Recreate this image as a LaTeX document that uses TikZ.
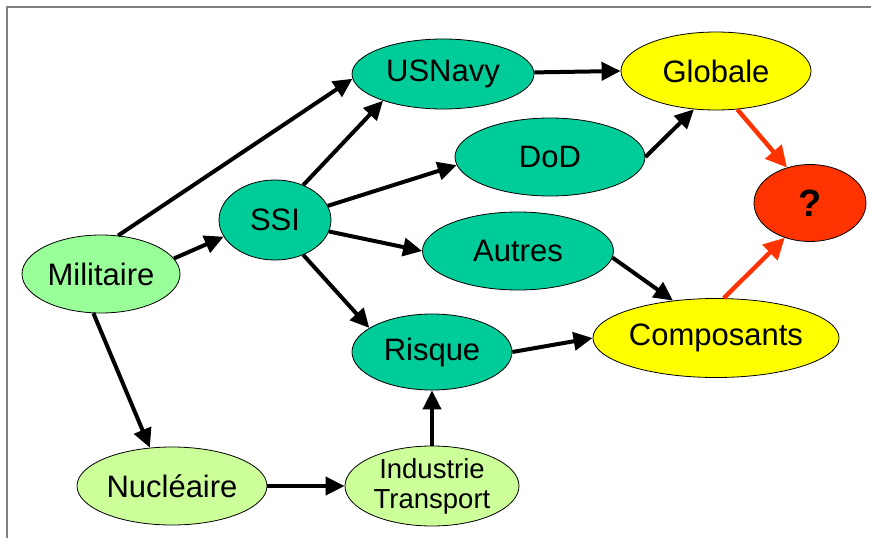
\documentclass[tikz,border=0pt]{standalone}
\usepackage{fontspec}
\setmainfont{Liberation Sans}
\usetikzlibrary{shapes.geometric,arrows.meta}
\definecolor{tealfill}{RGB}{0,204,153}
\definecolor{mintfill}{RGB}{153,255,153}
\definecolor{limefill}{RGB}{204,255,153}
\definecolor{yellowfill}{RGB}{255,255,0}
\definecolor{redfill}{RGB}{255,51,0}
\definecolor{framegray}{RGB}{128,128,128}
\begin{document}
\begin{tikzpicture}[x=1pt,y=-1pt,
  bub/.style={ellipse,draw=black,line width=0.8pt,inner sep=0pt,
    font=\fontsize{31}{33}\selectfont,align=center},
  sz/.style 2 args={minimum width=#1pt,minimum height=#2pt},
  link/.style={draw=black,line width=4pt,
    -{Triangle[length=19pt,width=18pt]}},
  redlink/.style={draw=redfill,line width=4.4pt,
    -{Triangle[length=21pt,width=21pt]}}]
\useasboundingbox (0,0) rectangle (871,538);
\draw[framegray,line width=1.6pt] (7,538) -- (7,7) -- (871,7);

% nodes
\node[bub,sz={158}{78},fill=mintfill]   (mil) at (101,274) {Militaire};
\node[bub,sz={112}{80},fill=tealfill]   (ssi) at (275,220) {SSI};
\node[bub,sz={182}{70},fill=tealfill]   (usn) at (443,74)  {USNavy};
\node[bub,sz={190}{78},fill=tealfill]   (dod) at (550,157) {DoD};
\node[bub,sz={191}{78},fill=tealfill]   (aut) at (518,251) {Autres};
\node[bub,sz={160}{76},fill=tealfill]   (ris) at (432,352) {Risque};
\node[bub,sz={190}{78},fill=yellowfill] (glo) at (716,71)  {Globale};
\node[bub,sz={236}{79},fill=yellowfill] (com) at (716,338) {Composants};
\node[bub,sz={112}{77},fill=redfill,font=\fontsize{38}{40}\selectfont\bfseries] (qm) at (810,203) {?};
\node[bub,sz={190}{78},fill=limefill]   (nuc) at (172,486) {Nucléaire};
\node[bub,sz={174}{80},fill=limefill,font=\fontsize{27.5}{30}\selectfont] (ind) at (432,486) {Industrie\\Transport};

% connectors
\draw[link] (mil.66)  -- (usn.183);
\draw[link] (mil.12)  -- (ssi.198);
\draw[link] (mil.259) -- (nuc.120);
\draw[link] (ssi.51)  -- (usn.204);
\draw[link] (ssi.15)  -- (dod.185);
\draw[link] (ssi.348) -- (aut.180);
\draw[link] (ssi.309) -- (ris.159);
\draw[link] (usn.1)   -- (glo.180);
\draw[link] (dod.0)   -- (glo.240);
\draw[link] (aut.356) -- (com.139);
\draw[link] (ris.0)   -- (com.180);
\draw[link] (ind.90)  -- (ris.270);
\draw[link] (nuc.0)   -- (ind.180);
\draw[redlink] (glo.299) -- (qm.123);
\draw[redlink] (com.79)  -- (qm.234);
\end{tikzpicture}
\end{document}
